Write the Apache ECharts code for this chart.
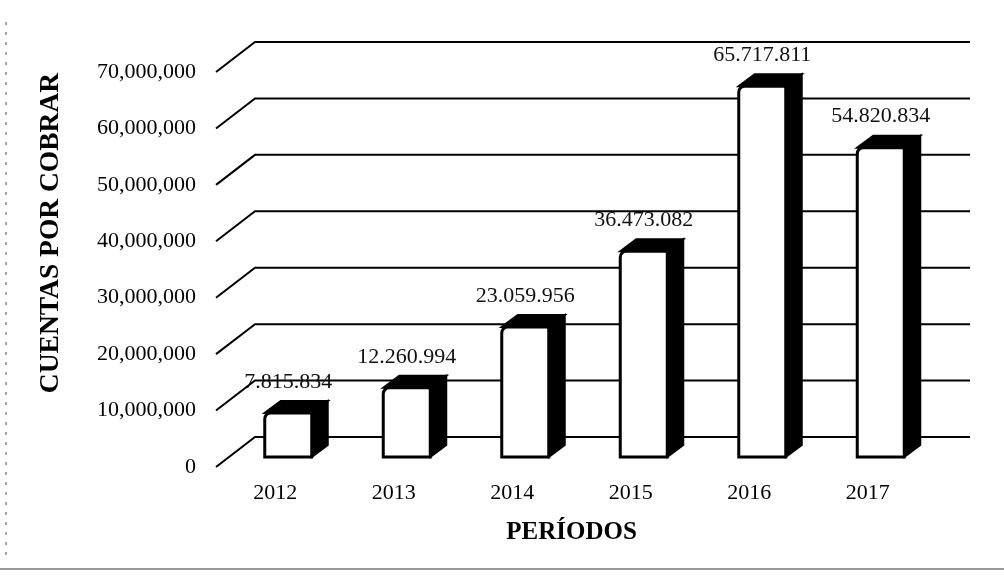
<!DOCTYPE html>
<html>
<head>
<meta charset="utf-8">
<script src="https://cdn.jsdelivr.net/npm/echarts@6/dist/echarts.min.js"></script>
<style>html,body{margin:0;padding:0;background:#fff}#c{width:1004px;height:576px}</style>
</head>
<body>
<div id="c"></div>
<script>
const categories = ['2012', '2013', '2014', '2015', '2016', '2017'];
const values = [7815834, 12260994, 23059956, 36473082, 65717811, 54820834];
const yTicks = [0, 10000000, 20000000, 30000000, 40000000, 50000000, 60000000, 70000000];

const FONT = 'Liberation Serif';
const WALL_DX = 39, WALL_DY = 30;   // depth of the 3D floor/wall
const WALL_EXTRA = 4;               // back wall runs slightly past last category
const BAR_DX = 13, BAR_DY = 10;     // bar front plane offset
const SIDE_DX = 16, SIDE_DY = 12;   // bar depth
const BAR_W = 47;

function dotted(n) {
  return String(n).replace(/\B(?=(\d{3})+(?!\d))/g, '.');
}
function commas(n) {
  return String(n).replace(/\B(?=(\d{3})+(?!\d))/g, ',');
}

const chart = echarts.init(document.getElementById('c'), null, {renderer: 'canvas'});

const option = {
  backgroundColor: '#fff',
  animation: false,
  grid: {left: 216, right: 77, top: 72, bottom: 109},
  xAxis: {
    type: 'category',
    data: categories,
    axisLine: {show: false},
    axisTick: {show: false},
    axisLabel: {fontFamily: FONT, fontSize: 22, color: '#000', margin: 15},
    name: 'PERÍODOS',
    nameLocation: 'middle',
    nameGap: 53,
    nameTextStyle: {fontFamily: FONT, fontSize: 25, fontWeight: 'bold', color: '#000'}
  },
  yAxis: {
    type: 'value',
    min: 0,
    max: 70000000,
    interval: 10000000,
    axisLine: {show: false},
    axisTick: {show: false},
    splitLine: {show: false},
    axisLabel: {fontFamily: FONT, fontSize: 22, color: '#000', margin: 20, formatter: v => commas(v)}
  },
  graphic: [
    {
      type: 'text',
      x: 51, y: 233,
      rotation: Math.PI / 2,
      style: {text: 'CUENTAS POR COBRAR', fontFamily: FONT, fontSize: 27.5, fontWeight: 'bold', fill: '#000', align: 'center', verticalAlign: 'middle'}
    },
    {type: 'line', shape: {x1: 0, y1: 569, x2: 1004, y2: 569}, style: {stroke: '#9a9a9a', lineWidth: 2}},
    {type: 'line', shape: {x1: 6, y1: 22, x2: 6, y2: 562}, style: {stroke: '#8a8a8a', lineWidth: 1.5, lineDash: [3, 7]}}
  ],
  series: [
    {
      type: 'custom',
      name: 'wall',
      silent: true,
      clip: false,
      z: 1,
      data: yTicks.map(v => [0, v]),
      encode: {x: 0, y: 1},
      renderItem: function (params, api) {
        const v = api.value(1);
        const p = api.coord([0, v]);
        const band = api.size([1, 0])[0];
        const left = p[0] - band / 2;
        const right = left + band * categories.length + WALL_EXTRA;
        return {
          type: 'polyline',
          shape: {points: [[left, p[1]], [left + WALL_DX, p[1] - WALL_DY], [right + WALL_DX, p[1] - WALL_DY]]},
          style: {stroke: '#000', lineWidth: 2, fill: null}
        };
      }
    },
    {
      type: 'custom',
      name: 'bars',
      clip: false,
      z: 2,
      data: categories.map((c, i) => [i, values[i]]),
      encode: {x: 0, y: 1},
      renderItem: function (params, api) {
        const i = api.value(0);
        const v = api.value(1);
        const p0 = api.coord([i, 0]);
        const p1 = api.coord([i, v]);
        const cx = p0[0] + BAR_DX;
        const L = cx - BAR_W / 2, R = cx + BAR_W / 2;
        const bottom = p0[1] - BAR_DY;
        const top = p1[1] - BAR_DY;
        return {
          type: 'group',
          children: [
            {
              type: 'polygon',
              shape: {points: [[L, top], [L + SIDE_DX, top - SIDE_DY], [R + SIDE_DX, top - SIDE_DY], [R, top]]},
              style: {fill: '#000', stroke: '#000', lineWidth: 2}
            },
            {
              type: 'polygon',
              shape: {points: [[R, top], [R + SIDE_DX, top - SIDE_DY], [R + SIDE_DX, bottom - SIDE_DY], [R, bottom]]},
              style: {fill: '#000', stroke: '#000', lineWidth: 2}
            },
            {
              type: 'rect',
              shape: {x: L, y: top, width: BAR_W, height: bottom - top, r: [6, 2, 0, 0]},
              style: {fill: '#fff', stroke: '#000', lineWidth: 3}
            },
            {
              type: 'text',
              x: cx, y: top - 31,
              style: {text: dotted(v), fontFamily: FONT, fontSize: 22, fill: '#111', align: 'center', verticalAlign: 'middle'}
            }
          ]
        };
      }
    }
  ]
};
chart.setOption(option);
</script>
</body>
</html>
